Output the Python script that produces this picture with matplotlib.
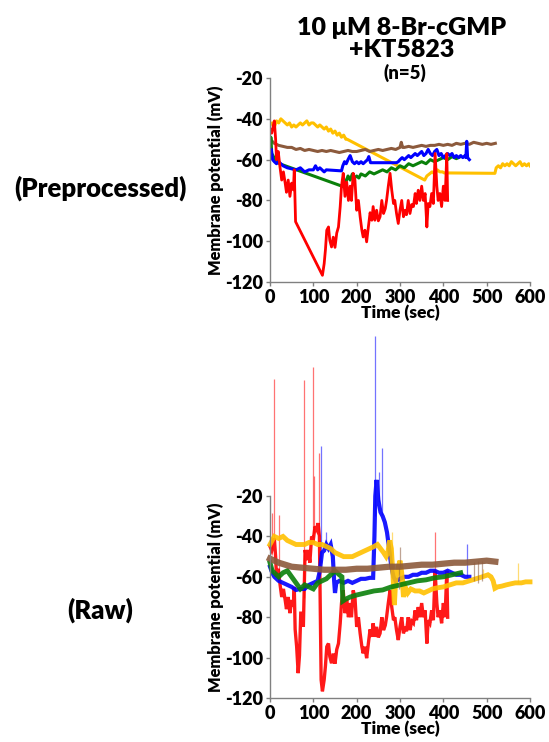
import matplotlib
matplotlib.use("Agg")
import matplotlib.pyplot as plt
import numpy as np

plt.rcParams['font.family'] = ['Lato', 'DejaVu Sans']
plt.rcParams['font.weight'] = 'heavy'
plt.rcParams['axes.unicode_minus'] = False
W = 'heavy'

RED = '#ff0000'
BLUE = '#0000ff'
GREEN = '#0a800a'
YELLOW = '#ffc000'
BROWN = '#8c5a3c'

# ---- preprocessed traces (time in s, membrane potential in mV) ----
pre_yellow_t = [0, 5, 10, 15, 20, 25, 30, 35, 40, 45, 50, 55, 60, 65, 70, 75, 80, 85, 90, 95,
                100, 105, 110, 115, 120, 125, 130, 135, 140, 145, 150, 155, 160, 165, 170, 175, 178,
                357, 362, 368, 374, 380, 386, 392, 398, 402,
                519, 522, 527, 532, 537, 542, 547, 552, 557, 562, 567, 572, 577, 582, 587, 592, 597, 600]
pre_yellow_v = [-43, -42, -44, -41, -42, -40, -41, -42, -43, -42, -44, -43, -44, -43, -42, -43, -42, -41, -43, -42,
                -42, -43, -44, -43, -44, -45, -44, -46, -45, -47, -46, -48, -47, -49, -48, -50, -50,
                -70, -68, -67, -66, -67, -65, -66, -66, -66.5,
                -66.7, -64, -63, -64, -62, -63, -62, -63, -61, -62, -63, -62, -61, -63, -62, -63, -62, -63]

pre_brown_t = [0, 5, 10, 20, 30, 40, 50, 60, 70, 80, 90, 100, 110, 120, 130, 140, 150, 160, 170, 180,
               190, 200, 210, 220, 230, 240, 250, 260, 270, 280, 290, 300, 303, 306, 310, 320, 330, 340,
               350, 360, 370, 380, 390, 400, 410, 420, 430, 440, 450, 460, 470, 480, 490, 500, 510, 520]
pre_brown_v = [-50, -51, -52, -53, -53.5, -54, -54, -55, -54.5, -55.5, -55, -55.5, -56, -55.5, -56, -55.5,
               -56, -56.5, -56, -55.5, -56, -56, -55.5, -55, -56, -55.5, -55, -55.5, -55, -54.5, -55, -54,
               -51.5, -54, -54, -53.5, -54, -53.5, -53, -53.5, -53, -53, -52.5, -53, -52.5, -53, -52,
               -52.5, -52, -52.5, -51.5, -52, -52.5, -52, -52.5, -52]

pre_blue_t = [0, 3, 6, 10, 15, 20, 25, 30, 40, 50, 60, 70, 80, 90, 100, 105, 110, 115, 120, 125, 130,
              165, 168, 172, 176, 180, 185, 190, 195, 200, 205, 210, 215, 220, 225, 228, 232,
              292, 296, 300, 305, 310, 315, 320, 325, 330, 335, 340, 345, 350, 355, 360, 365, 370, 375,
              380, 385, 390, 395, 400, 405, 410, 415, 420, 425, 430, 435, 440, 445, 450, 452, 454, 456, 460]
pre_blue_v = [-58, -55, -60, -61, -62, -61, -62, -63, -64, -64.5, -65, -64, -66, -65, -65, -63, -65, -64, -65, -66, -65,
              -65.5, -63, -61, -62, -60, -58, -61, -62, -61, -62, -61, -62, -61, -60, -58.5, -61.5,
              -61.5, -61, -60, -59, -60, -59, -58, -59, -58, -57, -58, -57, -56, -58, -57, -55, -57, -58,
              -56, -55, -58, -57, -59, -58, -57, -58, -57, -59, -58, -59, -58, -59, -58, -59, -51, -59, -60]

pre_green_t = [0, 2, 4, 7, 10, 14, 18, 22,
               170, 172, 175, 180, 185, 190, 195, 200, 205, 210, 220, 230, 240, 250, 260, 270, 280,
               290, 300, 310, 320, 330, 340, 350, 360, 370, 380, 390, 400, 410, 420, 430, 440]
pre_green_v = [-56, -49, -57, -58, -60, -59, -61, -62,
               -73.3, -70, -71, -68, -70, -67, -69, -68, -69, -67, -68, -66, -67, -66, -65, -66, -64,
               -65, -63, -64, -62, -63, -62, -61, -62, -60, -61, -60, -59, -60, -58.5, -59.5, -58.5]

pre_red_t = [0, 4, 8, 10, 13, 15, 19, 23, 27, 31, 35, 38, 42, 46, 50, 54, 56, 59,
             121, 125, 128, 131, 135, 138, 142, 146, 150, 154, 158, 162, 165, 169, 173, 177, 181, 185,
             188, 192, 196, 200, 204, 208, 212, 215, 219, 223, 227, 231, 235, 238, 242, 246, 250, 254,
             258, 262, 266, 269, 273, 277, 281, 285, 288, 292, 296, 300, 304, 308, 312, 315, 319, 323,
             327, 331, 335, 338, 342, 346, 350, 354, 358, 362, 365, 369, 373, 377, 381, 385, 388, 392,
             396, 400, 404, 408, 410]
pre_red_v = [-45, -47, -43, -41, -50, -60, -56, -63.5, -70, -66, -71.5, -76, -70, -78, -71.5, -74.8, -65, -90.4,
             -116.7, -111, -104, -94.6, -93, -99.5, -102.8, -98, -103, -96, -93, -83, -73, -66.7, -78, -71, -80, -73,
             -80, -66.7, -70, -84.8, -80, -88, -94.6, -97.9, -94.6, -100.3, -93, -86, -89.7, -83, -89.7, -84.8, -90, -88,
             -80, -86.4, -84, -80, -73, -66.7, -75, -81.5, -80, -86.4, -91.3, -84.8, -80, -88, -84.8, -87, -80, -86.4,
             -82, -83, -76.6, -81.5, -75, -80, -73, -80, -76.6, -93, -81.5, -83, -76.6, -81.5, -57, -73, -80, -76.6,
             -83, -73, -80, -57, -80]

# ---- raw traces ----
raw_red_gap_t = [58, 61.5, 65, 68, 71, 75, 77, 81, 85, 88.5, 92, 96, 100, 104, 108, 111, 114, 118]
raw_red_gap_v = [-86, -94.6, -107.7, -99, -78, -78, -84.7, -46.7, -51.7, -46.7, -53, -40, -41.6, -35, -36.7,
                 -33.4, -40, -111]

raw_blue_t = [0, 5, 10, 20, 30, 40, 50, 60, 70, 80, 90, 100, 110, 115, 120, 125, 130, 135, 140, 145, 148,
              150, 153, 160, 170, 180, 190, 200, 210, 220, 230, 238, 241, 243, 246, 250, 255, 260, 265,
              270, 275, 280, 285, 290, 300, 310, 320, 330, 340, 350, 360, 370, 380, 390, 400, 410, 420,
              430, 440, 450, 460]
raw_blue_v = [-55, -58, -60, -62, -63, -64, -65, -66.5, -66, -66, -64, -63, -62, -57, -48, -47, -44, -46, -44,
              -50, -62, -68, -63, -62, -63, -62, -63, -62, -61, -61, -60.5, -60.5, -40, -20, -12, -22, -28,
              -30, -33, -38, -46, -55, -60, -62, -61, -60, -60, -59, -59, -58, -58, -57, -57, -58, -58, -57,
              -58, -59, -59, -60, -60]

raw_yellow_t = [0, 10, 20, 30, 40, 50, 60, 70, 80, 90, 100, 110, 120, 130, 140, 150, 160, 170, 180, 190,
                200, 210, 220, 230, 240, 248, 255, 262, 268, 272, 276, 280, 284, 287, 290, 295, 300, 304,
                308, 312, 318, 325, 335, 345, 355, 365, 375, 385, 400, 415, 430, 445, 460, 475, 490, 503,
                510, 515, 519, 525, 535, 545, 555, 566, 580, 590, 600]
raw_yellow_v = [-44, -40, -41, -40, -42, -43, -44, -44, -44, -43, -43, -44, -44, -45, -46, -48, -49, -50, -50,
                -50, -49, -48, -47, -46, -45, -44, -46, -48, -50, -48, -42, -46, -60, -74, -62, -56, -52, -58,
                -70, -65, -68, -66, -67, -67, -68, -67, -66, -65.5, -65, -64, -63, -63, -62, -61, -60, -59,
                -60, -62, -65.7, -65, -64.6, -64, -63.5, -63, -63, -62.5, -62.5]

raw_green_t = [0, 5, 10, 20, 30, 40, 50, 60, 70, 80, 90, 100, 110, 120, 130, 140, 150, 160, 166, 168, 175,
               185, 200, 220, 240, 260, 280, 300, 320, 340, 360, 380, 400, 420, 440]
raw_green_v = [-53, -57, -58, -60, -58, -57, -60, -63, -66, -64, -65, -66, -63, -62, -61, -59, -57, -59, -60,
               -72, -71, -70, -69, -68, -67, -66.5, -65, -64, -63, -62, -61.5, -60.5, -60, -59, -58]

raw_brown_t = [0, 10, 20, 35, 50, 75, 100, 125, 150, 175, 200, 225, 250, 275, 300, 325, 350, 375, 400,
               425, 450, 475, 500, 520]
raw_brown_v = [-51, -52, -53, -54, -55, -55.5, -56, -56.5, -56.5, -56.5, -56, -56, -55.5, -55, -55, -54.5,
               -54, -54, -53.5, -53, -53, -52.5, -52, -52.5]

# fast transients in the raw recordings (time, peak)
red_spike_t = [5, 10, 21.5, 78.5, 98.5, 102, 114, 381]
red_spike_v = [-28.5, 38, -29.5, 37.5, 44, -10, 1.3, -37.7]
blue_spike_t = [117, 130, 242, 251, 259, 454]
blue_spike_v = [5, -38, 59, -8, 3.6, -43.8]
yellow_spike_t = [281, 492, 572]
yellow_spike_v = [-38, -56, -53]
brown_spike_t = [297, 300, 470, 480, 490]
brown_spike_v = [-66, -45, -62, -63, -62]


def style_axes(ax):
    ax.set_xlim(0, 600)
    ax.set_ylim(-120, -20)
    ax.set_xticks(range(0, 601, 100))
    ax.set_yticks(range(-120, -19, 20))
    for side in ('top', 'right'):
        ax.spines[side].set_visible(False)
    for side in ('left', 'bottom'):
        ax.spines[side].set_color('#808080')
        ax.spines[side].set_linewidth(1)
    ax.tick_params(length=3, width=1, color='#808080', labelsize=13, pad=2)
    for lab in ax.get_xticklabels() + ax.get_yticklabels():
        lab.set_fontweight(W)
    ax.set_xlabel('Time (sec)', fontsize=12.5, fontweight=W, labelpad=-1)
    ax.set_ylabel('Membrane potential (mV)', fontsize=11.8, fontweight=W, labelpad=1)
    ax.patch.set_visible(False)


fig = plt.figure(figsize=(5.49, 7.42), dpi=100)
ax1 = fig.add_axes([0.4918, 0.6199, 0.4736, 0.2749])
ax2 = fig.add_axes([0.4918, 0.0593, 0.4736, 0.2722])

# preprocessed panel
ax1.plot(pre_yellow_t, pre_yellow_v, color=YELLOW, lw=2.2)
ax1.plot(pre_brown_t, pre_brown_v, color=BROWN, lw=2.2)
ax1.plot(pre_green_t, pre_green_v, color=GREEN, lw=2.2)
ax1.plot(pre_blue_t, pre_blue_v, color=BLUE, lw=2.2)
ax1.plot(pre_red_t, pre_red_v, color=RED, lw=2.0)
style_axes(ax1)

# raw panel: recordings include the segments dropped in preprocessing
red_cut = sum(1 for t in pre_red_t if t <= 56)
raw_red_t = pre_red_t[:red_cut] + raw_red_gap_t + pre_red_t[red_cut + 1:]
raw_red_v = pre_red_v[:red_cut] + raw_red_gap_v + pre_red_v[red_cut + 1:]

traces = [
    (raw_red_t, raw_red_v, red_spike_t, red_spike_v, RED, 2.4),
    (raw_blue_t, raw_blue_v, blue_spike_t, blue_spike_v, BLUE, 3.0),
    (raw_yellow_t, raw_yellow_v, yellow_spike_t, yellow_spike_v, YELLOW, 3.5),
    (raw_green_t, raw_green_v, [], [], GREEN, 3.5),
    (raw_brown_t, raw_brown_v, brown_spike_t, brown_spike_v, BROWN, 4.5),
]
for t, v, st, sv, col, lw in traces:
    if st:
        base = np.interp(st, t, v)
        ax2.vlines(st, base, sv, colors=col, lw=0.9, alpha=0.55, clip_on=False)
    ax2.plot(t, v, color=col, lw=lw, alpha=0.9, clip_on=False, solid_joinstyle='miter')
style_axes(ax2)

fig.text(0.732, 0.962, '10 \u03bcM 8-Br-cGMP', ha='center', va='center', fontsize=18, fontweight=W)
fig.text(0.732, 0.933, '+KT5823', ha='center', va='center', fontsize=18, fontweight=W)
fig.text(0.737, 0.902, '(n=5)', ha='center', va='center', fontsize=13.5, fontweight=W)
fig.text(0.183, 0.746, '(Preprocessed)', ha='center', va='center', fontsize=18.5, fontweight=W)
fig.text(0.183, 0.178, '(Raw)', ha='center', va='center', fontsize=18.5, fontweight=W)

fig.savefig('out.png', dpi=100)
